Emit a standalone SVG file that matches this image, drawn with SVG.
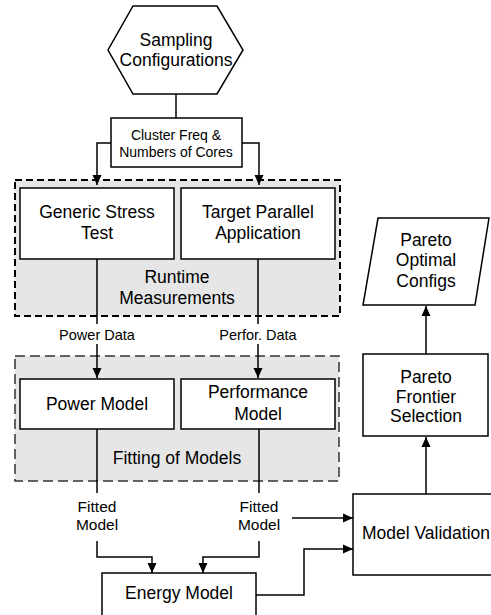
<svg xmlns="http://www.w3.org/2000/svg" width="491" height="615" viewBox="0 0 491 615">
<style>
text{font-family:"Liberation Sans",Arial,sans-serif;fill:#000;text-anchor:middle}
.big{font-size:17.5px}
.mid{font-size:14px}
.sm{font-size:14.5px}
.fm{font-size:15.5px}
.box{fill:#fff;stroke:#000;stroke-width:1.5}
.ln{fill:none;stroke:#000;stroke-width:1.5}
.g1{fill:#e6e6e6;stroke:#000;stroke-width:2;stroke-dasharray:7 4}
.g2{fill:#e6e6e6;stroke:#333;stroke-width:1.5;stroke-dasharray:10 5}
</style>
<defs>
<marker id="ah" markerWidth="12" markerHeight="12" refX="10" refY="5.5" orient="auto" markerUnits="userSpaceOnUse">
<path d="M0,1 L10,5.5 L0,10 Z" fill="#000"/>
</marker>
</defs>
<g id="group-runtime">
<rect class="g1" x="15" y="180" width="325" height="136"/>
<text class="big" x="177" y="283">Runtime</text>
<text class="big" x="177" y="303.5">Measurements</text>
</g>
<g id="group-fitting">
<rect class="g2" x="15" y="356" width="324" height="125"/>
<text class="big" x="177" y="464">Fitting of Models</text>
</g>
<g id="connectors">
<line class="ln" x1="176" y1="94" x2="176" y2="118"/>
<polyline class="ln" points="111,143 97,143 97,185" marker-end="url(#ah)"/>
<polyline class="ln" points="242,143 259,143 259,185" marker-end="url(#ah)"/>
<line class="ln" x1="97" y1="259" x2="97" y2="324"/>
<line class="ln" x1="97" y1="344" x2="97" y2="378" marker-end="url(#ah)"/>
<line class="ln" x1="258" y1="259" x2="258" y2="324"/>
<line class="ln" x1="258" y1="344" x2="258" y2="378" marker-end="url(#ah)"/>
<line class="ln" x1="97" y1="429" x2="97" y2="493"/>
<line class="ln" x1="259" y1="429" x2="259" y2="493"/>
<polyline class="ln" points="97,541 97,557 152,557 152,573" marker-end="url(#ah)"/>
<polyline class="ln" points="259,541 259,557 203,557 203,573" marker-end="url(#ah)"/>
<line class="ln" x1="292" y1="518" x2="353" y2="518" marker-end="url(#ah)"/>
<polyline class="ln" points="256,595 304,595 304,549 353,549" marker-end="url(#ah)"/>
<line class="ln" x1="426" y1="494" x2="426" y2="437" marker-end="url(#ah)"/>
<line class="ln" x1="426" y1="354" x2="426" y2="306" marker-end="url(#ah)"/>
<text class="sm" x="97" y="340">Power Data</text>
<text class="sm" x="258" y="340">Perfor. Data</text>
<text class="fm" x="97" y="512">Fitted</text>
<text class="fm" x="97" y="529.5">Model</text>
<text class="fm" x="259" y="512">Fitted</text>
<text class="fm" x="259" y="529.5">Model</text>
</g>
<g id="sampling">
<polygon class="box" points="133,6 217,6 243,50 217,94 133,94 108,50"/>
<text class="big" x="176" y="45.5">Sampling</text>
<text class="big" x="176" y="66">Configurations</text>
</g>
<g id="cluster">
<rect class="box" x="111" y="118" width="131" height="49"/>
<text class="mid" x="176" y="139.5">Cluster Freq &amp;</text>
<text class="mid" x="176" y="157">Numbers of Cores</text>
</g>
<g id="stress">
<rect class="box" x="20" y="188" width="154" height="71"/>
<text class="big" x="97" y="218">Generic Stress</text>
<text class="big" x="97" y="239">Test</text>
</g>
<g id="target">
<rect class="box" x="181" y="188" width="154" height="71"/>
<text class="big" x="258" y="218">Target Parallel</text>
<text class="big" x="258" y="239">Application</text>
</g>
<g id="power">
<rect class="box" x="20" y="379" width="154" height="50"/>
<text class="big" x="97" y="410">Power Model</text>
</g>
<g id="performance">
<rect class="box" x="181" y="379" width="154" height="50"/>
<text class="big" x="258" y="398">Performance</text>
<text class="big" x="258" y="420">Model</text>
</g>
<g id="energy">
<rect class="box" x="102" y="573" width="154" height="55"/>
<text class="big" x="179" y="599">Energy Model</text>
</g>
<g id="validation">
<rect class="box" x="353" y="494" width="146" height="81"/>
<text class="big" x="426" y="538.5">Model Validation</text>
</g>
<g id="frontier">
<rect class="box" x="363" y="354" width="125" height="82"/>
<text class="big" x="426" y="383">Pareto</text>
<text class="big" x="426" y="402.5">Frontier</text>
<text class="big" x="426" y="422">Selection</text>
</g>
<g id="optimal">
<polygon class="box" points="378,218 489,218 475,305 363,305"/>
<text class="big" x="426" y="246">Pareto</text>
<text class="big" x="426" y="266">Optimal</text>
<text class="big" x="426" y="286.5">Configs</text>
</g>
</svg>
